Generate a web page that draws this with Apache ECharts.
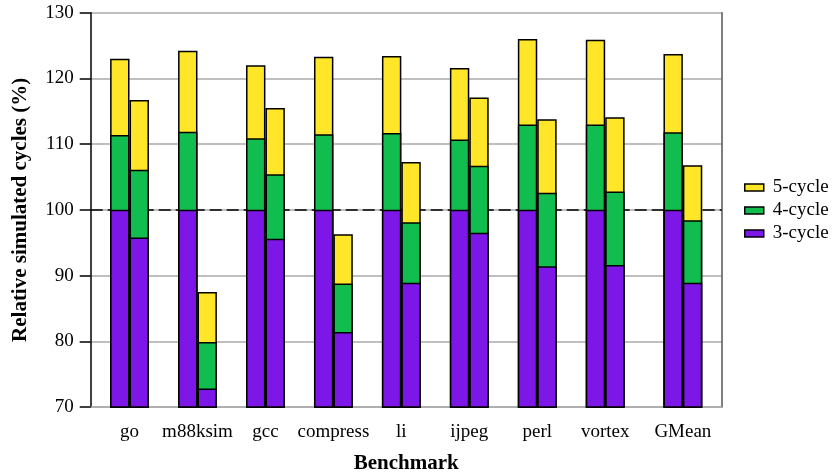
<!DOCTYPE html>
<html>
<head>
<meta charset="utf-8">
<style>
  html, body { margin: 0; padding: 0; background: #fff; }
  #chart { width: 832px; height: 474px; }
</style>
<script src="https://cdn.jsdelivr.net/npm/echarts@6/dist/echarts.min.js"></script>
</head>
<body>
<div id="chart"></div>
<script>
// Benchmarks, each with two bars (left and right configuration)
const benchmarks = ['go', 'm88ksim', 'gcc', 'compress', 'li', 'ijpeg', 'perl', 'vortex', 'GMean'];

// Relative simulated cycles (%) for each latency, left bar of each pair
const cycle3Left = [100, 100, 100, 100, 100, 100, 100, 100, 100];
const cycle4Left = [111.4, 111.9, 110.9, 111.5, 111.7, 110.7, 113.0, 113.0, 111.8];
const cycle5Left = [123.0, 124.2, 122.0, 123.3, 123.4, 121.6, 126.0, 125.9, 123.7];

// Right bar of each pair
const cycle3Right = [95.8, 72.8, 95.6, 81.4, 88.9, 96.5, 91.4, 91.6, 88.9];
const cycle4Right = [106.1, 79.9, 105.4, 88.8, 98.1, 106.7, 102.6, 102.8, 98.4];
const cycle5Right = [116.7, 87.5, 115.5, 96.3, 107.3, 117.1, 113.8, 114.1, 106.8];

const seriesNames = ['5-cycle', '4-cycle', '3-cycle'];
const yTicks = { min: 70, max: 130, step: 10 };
const baseline = 100;

// Layout in slot units: margin 2, pair 4 wide, gap 3, extra gap before the mean
const FONT = "'Liberation Serif', 'Times New Roman', serif";
const colors = { '5-cycle': '#ffe629', '4-cycle': '#12bd4f', '3-cycle': '#7c17e8' };
const centers = benchmarks.map((b, i) => 4 + 7 * i + (i === benchmarks.length - 1 ? 1 : 0));
const xMax = centers[centers.length - 1] + 4;

function pairData(left, right) {
  const out = [];
  centers.forEach((c, i) => {
    out.push([c - 1, left[i]]);
    out.push([c + 1, right[i]]);
  });
  return out;
}
const valuesByName = {
  '5-cycle': pairData(cycle5Left, cycle5Right),
  '4-cycle': pairData(cycle4Left, cycle4Right),
  '3-cycle': pairData(cycle3Left, cycle3Right)
};

const barSeries = seriesNames.map(name => ({
  name: name,
  type: 'bar',
  z: 3,
  barWidth: 19.4,
  barGap: '-100%',
  data: valuesByName[name],
  itemStyle: { color: colors[name], borderColor: '#000', borderWidth: 1.5 }
}));

const chart = echarts.init(document.getElementById('chart'), null, { renderer: 'canvas' });
chart.setOption({
  animation: false,
  backgroundColor: '#fff',
  grid: {
    left: 90.7, right: 110.3, top: 12.7, bottom: 67,
    containLabel: false,
    outerBoundsMode: 'none'
  },
  legend: {
    data: seriesNames,
    icon: 'rect',
    orient: 'vertical',
    left: 744,
    top: 178,
    padding: 0,
    itemWidth: 19,
    itemHeight: 7,
    itemGap: 4,
    itemStyle: { borderColor: '#000', borderWidth: 1.5 },
    textStyle: { fontFamily: FONT, fontSize: 19, color: '#000', padding: [0, 0, 0, 4] }
  },
  xAxis: {
    type: 'value',
    min: 0,
    max: xMax,
    name: 'Benchmark',
    nameLocation: 'middle',
    nameGap: 46,
    nameTextStyle: { fontFamily: FONT, fontSize: 21, fontWeight: 'bold', color: '#000' },
    axisLine: { show: true, lineStyle: { color: '#aaa', width: 1.5 } },
    axisTick: { show: false },
    splitLine: { show: false },
    axisLabel: {
      customValues: centers,
      margin: 16,
      fontFamily: FONT,
      fontSize: 19,
      color: '#000',
      formatter: v => benchmarks[centers.indexOf(v)] || ''
    }
  },
  yAxis: [{
    type: 'value',
    min: yTicks.min,
    max: yTicks.max,
    interval: yTicks.step,
    name: 'Relative simulated cycles (%)',
    nameLocation: 'middle',
    nameGap: 60,
    nameTextStyle: { fontFamily: FONT, fontSize: 21, fontWeight: 'bold', color: '#000' },
    axisLine: { show: true, lineStyle: { color: '#000', width: 1.5 } },
    axisTick: { show: true, inside: false, length: 11, lineStyle: { color: '#000', width: 1.5 } },
    axisLabel: { margin: 17, fontFamily: FONT, fontSize: 19, color: '#000' },
    splitLine: { show: true, lineStyle: { color: '#aaa', width: 1.5 } }
  }, {
    type: 'value',
    position: 'right',
    min: yTicks.min,
    max: yTicks.max,
    axisLine: { show: true, lineStyle: { color: '#555', width: 1.5 } },
    axisTick: { show: false },
    axisLabel: { show: false },
    splitLine: { show: false }
  }],
  series: barSeries.concat([{
    name: 'baseline',
    type: 'line',
    z: 1,
    data: [],
    markLine: {
      z: 1,
      silent: true,
      symbol: 'none',
      label: { show: false },
      lineStyle: { color: '#000', type: [12, 5], width: 1.5 },
      data: [{ yAxis: baseline }]
    }
  }])
});
</script>
</body>
</html>
